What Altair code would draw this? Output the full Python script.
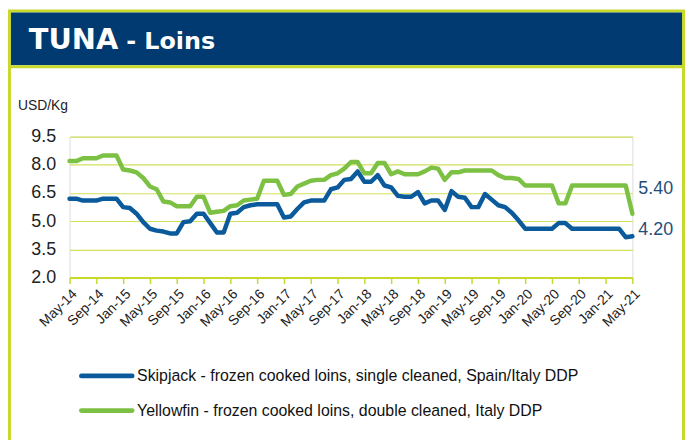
import altair as alt
import pandas as pd

# ---------------- data ----------------
months = pd.date_range("2014-05-01", periods=85, freq="MS").strftime("%b-%y").tolist()

skipjack = [
    6.2, 6.2, 6.1, 6.1, 6.1, 6.2, 6.2, 6.2,
    5.75, 5.7, 5.4, 4.95, 4.6, 4.5, 4.45, 4.35,
    4.35, 4.95, 5.0, 5.4, 5.4, 4.9, 4.4, 4.4,
    5.4, 5.45, 5.75, 5.85, 5.9, 5.9, 5.9, 5.9,
    5.2, 5.25, 5.65, 6.0, 6.1, 6.1, 6.1, 6.7,
    6.8, 7.2, 7.25, 7.65, 7.1, 7.1, 7.45, 6.9,
    6.8, 6.35, 6.3, 6.3, 6.55, 5.95, 6.1, 6.1,
    5.6, 6.6, 6.3, 6.25, 5.75, 5.75, 6.45, 6.15,
    5.85, 5.75, 5.45, 5.05, 4.6, 4.6, 4.6, 4.6,
    4.6, 4.9, 4.9, 4.6, 4.6, 4.6, 4.6, 4.6,
    4.6, 4.6, 4.6, 4.15, 4.2,
]

yellowfin = [
    8.2, 8.2, 8.35, 8.35, 8.35, 8.5, 8.5, 8.5,
    7.75, 7.7, 7.6, 7.3, 6.85, 6.7, 6.05, 6.0,
    5.8, 5.8, 5.8, 6.3, 6.3, 5.45, 5.5, 5.55,
    5.8, 5.85, 6.1, 6.15, 6.2, 7.15, 7.15, 7.15,
    6.4, 6.45, 6.85, 7.0, 7.15, 7.2, 7.2, 7.45,
    7.55, 7.8, 8.15, 8.15, 7.55, 7.55, 8.1, 8.1,
    7.5, 7.65, 7.5, 7.5, 7.5, 7.65, 7.85, 7.8,
    7.2, 7.6, 7.6, 7.7, 7.7, 7.7, 7.7, 7.7,
    7.45, 7.3, 7.3, 7.25, 6.9, 6.9, 6.9, 6.9,
    6.9, 5.95, 5.95, 6.9, 6.9, 6.9, 6.9, 6.9,
    6.9, 6.9, 6.9, 6.9, 5.4,
]

series_names = [
    "Skipjack - frozen cooked loins, single cleaned, Spain/Italy DDP",
    "Yellowfin - frozen cooked loins, double cleaned, Italy DDP",
]
y_ticks = [2.0, 3.5, 5.0, 6.5, 8.0, 9.5]
x_tick_labels = months[::4]
end_labels = ["4.20", "5.40"]

# ---------------- styling ----------------
BLUE = "#0B5A9C"
GREEN = "#7CC143"
FRAME = "#C8D92B"
GRID = "#D3E05A"
NAVY = "#003A70"
LABEL_NAVY = "#1F4E79"
FONT = "Liberation Sans"

df = pd.DataFrame({
    "month": months * 2,
    "value": skipjack + yellowfin,
    "series": [series_names[0]] * len(months) + [series_names[1]] * len(months),
})

x_scale = alt.Scale(type="point", padding=0, domain=months)
y_scale = alt.Scale(domain=[2, 9.5], nice=False, zero=False)
x_axis = alt.Axis(values=x_tick_labels, title=None, labelAngle=-45,
                  labelFontSize=14, labelFont=FONT, labelColor="#222",
                  labelPadding=3, labelOverlap=False, domainColor=FRAME, domainWidth=2,
                  tickColor=FRAME, tickWidth=1.5, tickSize=6, grid=False)
y_axis = alt.Axis(values=y_ticks, format=".1f", title=None,
                  labelFontSize=18, labelFont=FONT, labelColor="#222",
                  labelPadding=14, labelOverlap=False, domain=False, ticks=False,
                  grid=True, gridColor=GRID, gridWidth=1.2)
x_enc = alt.X("month:N", sort=months, scale=x_scale, axis=x_axis)
y_enc = alt.Y("value:Q", scale=y_scale, axis=y_axis)

one = alt.InlineData(values=[{"k": 0}])

frame = alt.Chart(one).mark_rect(fillOpacity=0, stroke=FRAME, strokeWidth=3).encode(
    x=alt.value(-60.5), x2=alt.value(618.5), y=alt.value(-126.5), y2=alt.value(320))
banner = alt.Chart(one).mark_rect(fill=NAVY).encode(
    x=alt.value(-59), x2=alt.value(617), y=alt.value(-125), y2=alt.value(-72))
sep = alt.Chart(one).mark_rect(fill=FRAME).encode(
    x=alt.value(-59), x2=alt.value(617), y=alt.value(-72), y2=alt.value(-69))
t1 = alt.Chart(one).mark_text(align="left", baseline="alphabetic", font="DejaVu Sans",
                              fontWeight="bold", fontSize=29, color="white").encode(
    x=alt.value(-41), y=alt.value(-88), text=alt.value("TUNA"))
t2 = alt.Chart(one).mark_text(align="left", baseline="alphabetic", font="DejaVu Sans",
                              fontWeight="bold", fontSize=24, color="white").encode(
    x=alt.value(57), y=alt.value(-88), text=alt.value("- Loins"))
unit = alt.Chart(one).mark_text(align="left", baseline="alphabetic", font=FONT,
                                fontSize=14, color="#222").encode(
    x=alt.value(-52), y=alt.value(-27), text=alt.value("USD/Kg"))

lines = alt.Chart(df).mark_line(strokeWidth=4.5, strokeJoin="round", strokeCap="round").encode(
    x=x_enc, y=y_enc,
    color=alt.Color("series:N", scale=alt.Scale(domain=series_names, range=[BLUE, GREEN]),
                    legend=None),
)

ends = pd.DataFrame({"month": [months[-1], months[-1]],
                     "value": [skipjack[-1], yellowfin[-1]],
                     "label": end_labels})
end_blue = alt.Chart(ends.iloc[[0]]).mark_text(align="left", baseline="middle", dx=6, dy=-6,
                                               font=FONT, fontSize=18, color=LABEL_NAVY).encode(
    x=x_enc, y=y_enc, text="label:N")
end_green = alt.Chart(ends.iloc[[1]]).mark_text(align="left", baseline="middle", dx=6, dy=-25,
                                                font=FONT, fontSize=18, color=LABEL_NAVY).encode(
    x=x_enc, y=y_enc, text="label:N")

leg = []
for i, (name, col) in enumerate(zip(series_names, [BLUE, GREEN])):
    yy = 241 + 35 * i
    leg.append(alt.Chart(one).mark_rule(strokeWidth=5, strokeCap="round", color=col).encode(
        x=alt.value(12), x2=alt.value(63), y=alt.value(yy)))
    leg.append(alt.Chart(one).mark_text(align="left", baseline="middle", font=FONT,
                                        fontSize=16, color="#111").encode(
        x=alt.value(68), y=alt.value(yy), text=alt.value(name)))

chart = alt.layer(frame, banner, sep, t1, t2, unit, lines, end_blue, end_green, *leg).properties(
    width=567, height=142, autosize="none",
    padding={"left": 62, "top": 128, "right": 53, "bottom": 162},
).configure_view(stroke=None).configure(background="white")

chart.save("out.html", embed_options={"renderer": "svg", "actions": False})
